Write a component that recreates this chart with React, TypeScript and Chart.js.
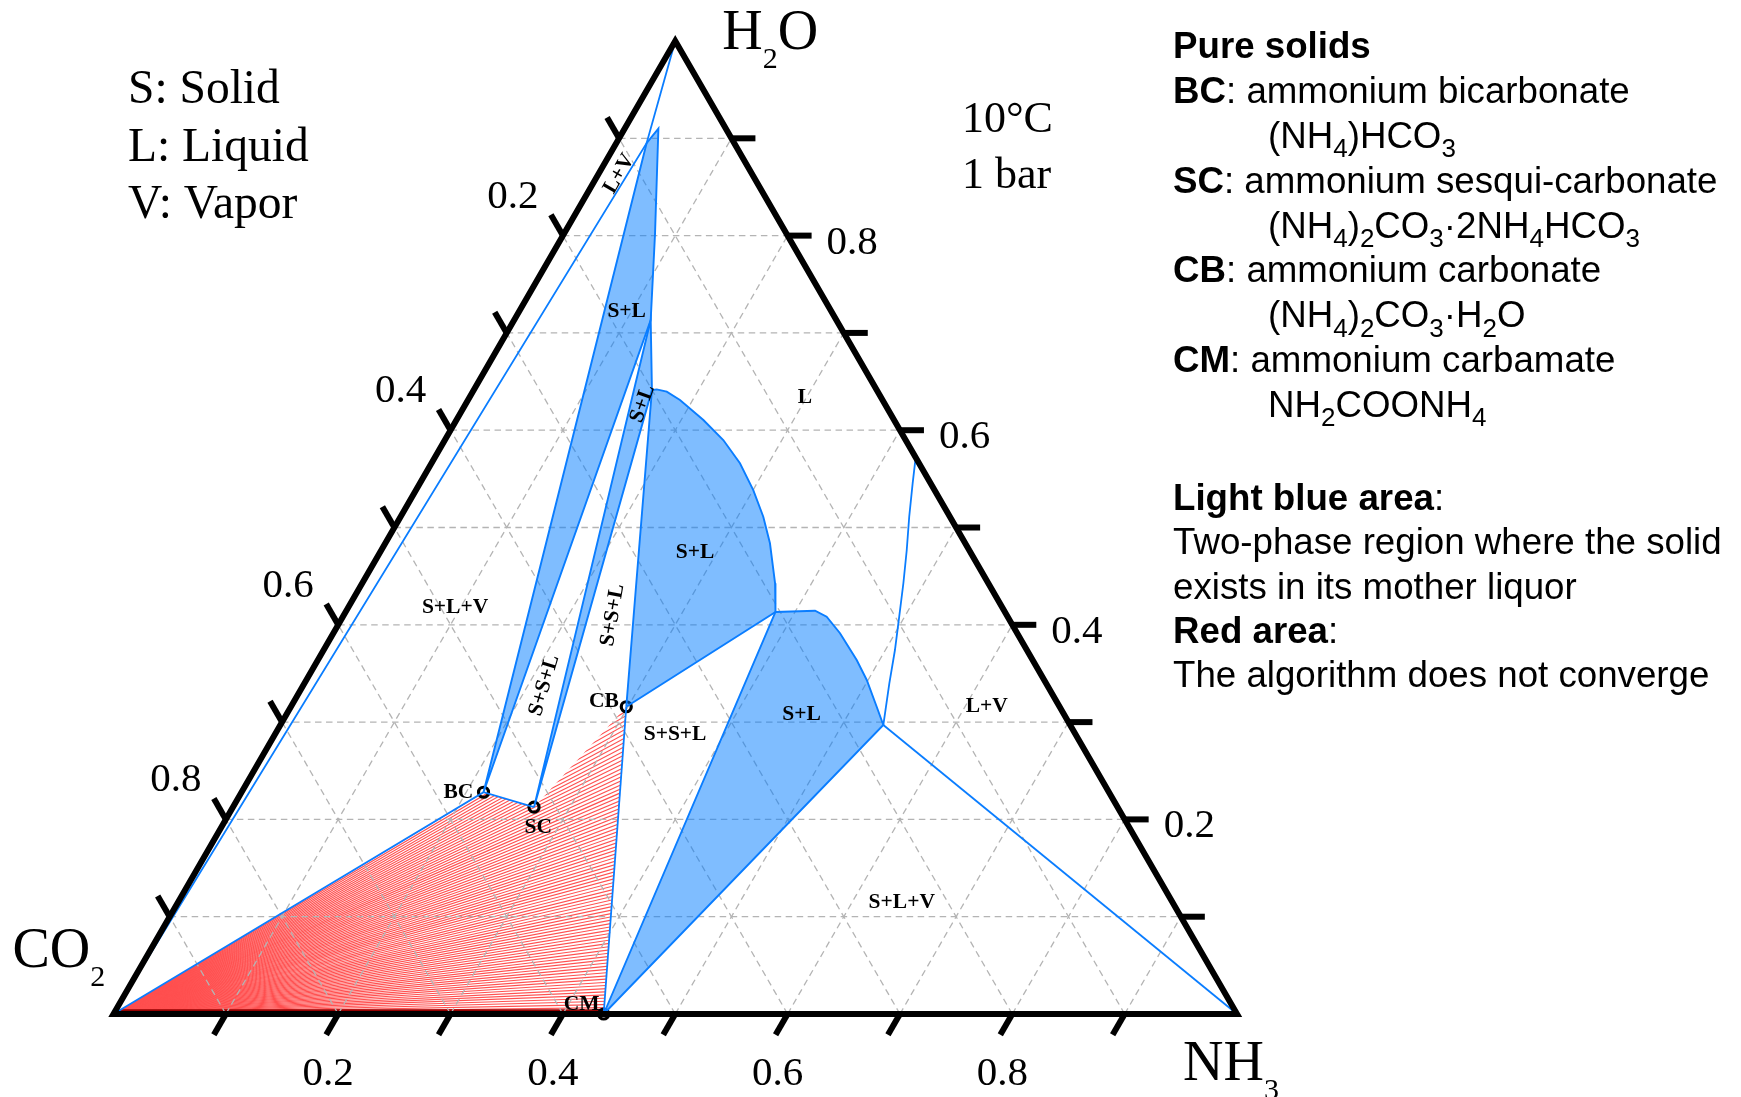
import React, { useEffect, useRef } from 'react';
import { Chart, registerables } from 'chart.js';

Chart.register(...registerables);

type TP = [number, number]; // [NH3 mass fraction, H2O mass fraction]; CO2 = 1 - NH3 - H2O
type Seg = [string, 'n' | 'b' | 's'];

// ---------------- data ----------------
const CO2_V: TP = [0, 0];
const NH3_V: TP = [1, 0];
const H2O_V: TP = [0, 1];

const solidNames = ['BC', 'SC', 'CB', 'CM'];
const solidPoints: TP[] = [
  [0.2154, 0.2279],
  [0.268, 0.2126],
  [0.2985, 0.3158],
  [0.4363, 0.0],
];

const bcLiquidus: TP[] = [[0.027, 0.895], [0.03, 0.91], [0.081, 0.802], [0.1215, 0.7133]];
const scLiquidus: TP[] = [[0.1215, 0.7133], [0.1586, 0.6413]];
const cbLiquidus: TP[] = [
  [0.1586, 0.6413], [0.1625, 0.642], [0.1726, 0.6396], [0.1887, 0.631], [0.2198, 0.6105],
  [0.2478, 0.5899], [0.2746, 0.566], [0.3002, 0.5385], [0.3228, 0.5111], [0.3424, 0.4838],
  [0.3675, 0.4427], [0.3826, 0.4132],
];
const cmLiquidus: TP[] = [
  [0.3826, 0.4132], [0.4172, 0.4145], [0.4306, 0.4083], [0.451, 0.3913], [0.4796, 0.3638],
  [0.4988, 0.3433], [0.5214, 0.3158], [0.5367, 0.297],
];
const lvRightCurve: TP[] = [
  [0.5367, 0.297], [0.5206, 0.3399], [0.5085, 0.3741], [0.4952, 0.4083], [0.4817, 0.4427],
  [0.4676, 0.4769], [0.4527, 0.5111], [0.4386, 0.5454], [0.428, 0.572],
];
const lvLeftCurve: TP[] = [CO2_V, [0.027, 0.895], H2O_V];

const axisTicks = [0.1, 0.2, 0.3, 0.4, 0.5, 0.6, 0.7, 0.8, 0.9];
const axisLabels = [0.2, 0.4, 0.6, 0.8];

const regionLabels: { text: string; at: TP; rot: number }[] = [
  { text: 'L+V', at: [0.0173, 0.864], rot: -60 },
  { text: 'S+L', at: [0.095, 0.7235], rot: 0 },
  { text: 'S+L', at: [0.1563, 0.6276], rot: -70 },
  { text: 'L', at: [0.2983, 0.6344], rot: 0 },
  { text: 'S+L', at: [0.28, 0.4751], rot: 0 },
  { text: 'S+S+L', at: [0.2384, 0.4101], rot: -80 },
  { text: 'S+S+L', at: [0.2135, 0.3381], rot: -73 },
  { text: 'S+L+V', at: [0.0947, 0.4186], rot: 0 },
  { text: 'S+S+L', at: [0.3556, 0.2885], rot: 0 },
  { text: 'S+L', at: [0.458, 0.309], rot: 0 },
  { text: 'L+V', at: [0.6184, 0.3176], rot: 0 },
  { text: 'S+L+V', at: [0.6439, 0.1154], rot: 0 },
  { text: 'CB', at: [0.2752, 0.3227], rot: 0 },
  { text: 'BC', at: [0.1927, 0.2285], rot: 0 },
  { text: 'SC', at: [0.2819, 0.1925], rot: 0 },
  { text: 'CM', at: [0.4112, 0.011], rot: 0 },
];

const phaseLegend = ['S: Solid', 'L: Liquid', 'V: Vapor'];
const conditions = ['10°C', '1 bar'];

const pureSolidNotes: Seg[][] = [
  [['Pure solids', 'b']],
  [['BC', 'b'], [': ammonium bicarbonate', 'n']],
  [['(NH', 'n'], ['4', 's'], [')HCO', 'n'], ['3', 's']],
  [['SC', 'b'], [': ammonium sesqui-carbonate', 'n']],
  [['(NH', 'n'], ['4', 's'], [')', 'n'], ['2', 's'], ['CO', 'n'], ['3', 's'], ['·2NH', 'n'], ['4', 's'], ['HCO', 'n'], ['3', 's']],
  [['CB', 'b'], [': ammonium carbonate', 'n']],
  [['(NH', 'n'], ['4', 's'], [')', 'n'], ['2', 's'], ['CO', 'n'], ['3', 's'], ['·H', 'n'], ['2', 's'], ['O', 'n']],
  [['CM', 'b'], [': ammonium carbamate', 'n']],
  [['NH', 'n'], ['2', 's'], ['COONH', 'n'], ['4', 's']],
];
const areaNotes: Seg[][] = [
  [['Light blue area', 'b'], [':', 'n']],
  [['Two-phase region where the solid', 'n']],
  [['exists in its mother liquor', 'n']],
  [['Red area', 'b'], [':', 'n']],
  [['The algorithm does not converge', 'n']],
];

// ---------------- derived ----------------
const [BC, SC, CB, CM] = solidPoints;
const bcRegion: TP[] = [BC, ...bcLiquidus, BC];
const scRegion: TP[] = [SC, ...scLiquidus, SC];
const cbRegion: TP[] = [CB, ...cbLiquidus, CB];
const cmRegion: TP[] = [CM, ...cmLiquidus, CM];
const boundaryLines: TP[][] = [
  lvLeftCurve,
  [CO2_V, BC, SC],
  [CB, CM],
  [cmLiquidus[cmLiquidus.length - 1], NH3_V],
  lvRightCurve,
];
const redRegion: TP[] = [CO2_V, BC, SC, CB, CM];

const SQ = Math.sqrt(3) / 2;
const toXY = (p: TP) => ({ x: p[0] + p[1] / 2, y: p[1] * SQ });

const SERIF = '"Liberation Serif", "Times New Roman", serif';
const SANS = '"Liberation Sans", Arial, sans-serif';
const LINE = '#0a7dff';
const FILL = 'rgba(0,124,255,0.5)';

function drawRich(ctx: CanvasRenderingContext2D, segs: Seg[], x: number, y: number, size: number, sub: number, subDy: number, fam: string) {
  let cx = x;
  for (const [t, k] of segs) {
    ctx.font = k === 's' ? `${sub}px ${fam}` : `${k === 'b' ? 'bold ' : ''}${size}px ${fam}`;
    ctx.fillText(t, cx, k === 's' ? y + subDy : y);
    cx += ctx.measureText(t).width;
  }
}

const ternaryPlugin = {
  id: 'ternaryDecor',
  beforeDatasetsDraw(chart: any) {
    const ctx: CanvasRenderingContext2D = chart.ctx;
    const P = (p: TP): [number, number] => {
      const q = toXY(p);
      return [chart.scales.x.getPixelForValue(q.x), chart.scales.y.getPixelForValue(q.y)];
    };
    // red hatch (fan from the CO2 corner, clipped to the region)
    ctx.save();
    ctx.beginPath();
    redRegion.forEach((p, i) => {
      const [x, y] = P(p);
      if (i) ctx.lineTo(x, y); else ctx.moveTo(x, y);
    });
    ctx.closePath();
    ctx.clip();
    const [ox, oy] = P(redRegion[0]);
    let maxA = 0;
    redRegion.slice(1).forEach((p) => {
      const [x, y] = P(p);
      maxA = Math.max(maxA, Math.atan2(oy - y, x - ox));
    });
    ctx.strokeStyle = 'rgb(255,80,80)';
    ctx.lineWidth = 1.15;
    const n = 84;
    for (let i = 0; i <= n; i++) {
      const a = (maxA * i) / n;
      ctx.beginPath();
      ctx.moveTo(ox, oy);
      ctx.lineTo(ox + 1600 * Math.cos(a), oy - 1600 * Math.sin(a));
      ctx.stroke();
    }
    // dark band along the base
    const [mx, my] = P(redRegion[redRegion.length - 1]);
    ctx.strokeStyle = 'rgb(150,0,0)';
    ctx.lineWidth = 2.5;
    ctx.beginPath();
    ctx.moveTo(ox, oy - 3.5);
    ctx.lineTo(mx, my - 3.5);
    ctx.stroke();
    ctx.restore();

    // dashed grid
    ctx.save();
    ctx.strokeStyle = '#b4b4b4';
    ctx.lineWidth = 1.3;
    ctx.setLineDash([6.5, 4.5]);
    const seg = (a: TP, b: TP) => {
      const [x1, y1] = P(a);
      const [x2, y2] = P(b);
      ctx.beginPath();
      ctx.moveTo(x1, y1);
      ctx.lineTo(x2, y2);
      ctx.stroke();
    };
    for (const t of axisTicks) {
      seg([0, t], [1 - t, t]);
      seg([t, 0], [t, 1 - t]);
      seg([1 - t, 0], [0, 1 - t]);
    }
    ctx.restore();
  },
  afterDatasetsDraw(chart: any) {
    const ctx: CanvasRenderingContext2D = chart.ctx;
    const P = (p: TP): [number, number] => {
      const q = toXY(p);
      return [chart.scales.x.getPixelForValue(q.x), chart.scales.y.getPixelForValue(q.y)];
    };
    ctx.save();
    // frame
    const [ax, ay] = P(CO2_V);
    const [bx, by] = P(NH3_V);
    const [cx, cy] = P(H2O_V);
    ctx.strokeStyle = '#000';
    ctx.lineWidth = 6;
    ctx.lineJoin = 'miter';
    ctx.beginPath();
    ctx.moveTo(ax, ay);
    ctx.lineTo(bx, by);
    ctx.lineTo(cx, cy);
    ctx.closePath();
    ctx.stroke();
    // ticks
    const L = 24;
    ctx.lineCap = 'butt';
    for (const t of axisTicks) {
      let [x, y] = P([t, 0]);
      ctx.beginPath(); ctx.moveTo(x, y); ctx.lineTo(x - 0.5 * L, y + SQ * L); ctx.stroke();
      [x, y] = P([1 - t, t]);
      ctx.beginPath(); ctx.moveTo(x, y); ctx.lineTo(x + L, y); ctx.stroke();
      [x, y] = P([0, 1 - t]);
      ctx.beginPath(); ctx.moveTo(x, y); ctx.lineTo(x - 0.5 * L, y - SQ * L); ctx.stroke();
    }
    // tick labels
    ctx.fillStyle = '#000';
    ctx.font = `41px ${SERIF}`;
    ctx.textBaseline = 'alphabetic';
    for (const v of axisLabels) {
      const s = v.toFixed(1);
      let [x, y] = P([v, 0]);
      ctx.textAlign = 'center';
      ctx.fillText(s, x - 10, y + 71);
      [x, y] = P([1 - v, v]);
      ctx.textAlign = 'left';
      ctx.fillText(s, x + 39, y + 18);
      [x, y] = P([0, 1 - v]);
      ctx.textAlign = 'center';
      ctx.fillText(s, x - 50, y - 28);
    }
    // vertex labels
    ctx.textAlign = 'left';
    drawRich(ctx, [['H', 'n'], ['2', 's'], ['O', 'n']], cx + 47, cy + 8, 56, 30, 19, SERIF);
    drawRich(ctx, [['CO', 'n'], ['2', 's']], ax - 101, ay - 47, 56, 30, 19, SERIF);
    drawRich(ctx, [['NH', 'n'], ['3', 's']], bx - 54, by + 66, 56, 30, 19, SERIF);

    // region labels
    ctx.font = `bold 21.5px ${SERIF}`;
    ctx.textAlign = 'center';
    ctx.textBaseline = 'middle';
    for (const lb of regionLabels) {
      const [x, y] = P(lb.at);
      ctx.save();
      ctx.translate(x, y);
      ctx.rotate((lb.rot * Math.PI) / 180);
      ctx.fillText(lb.text, 0, 1);
      ctx.restore();
    }

    // text blocks
    ctx.textAlign = 'left';
    ctx.textBaseline = 'alphabetic';
    ctx.font = `47.5px ${SERIF}`;
    phaseLegend.forEach((s, i) => ctx.fillText(s, 128, 103.3 + i * 57.5));
    ctx.font = `44px ${SERIF}`;
    conditions.forEach((s, i) => ctx.fillText(s, 962, 131.7 + i * 56.6));

    pureSolidNotes.forEach((segs, i) => {
      const indent = i > 0 && i % 2 === 0 ? 1268 : 1173;
      drawRich(ctx, segs, indent, 58.3 + i * 44.8, 36.7, 26, 9.5, SANS);
    });
    areaNotes.forEach((segs, i) => {
      drawRich(ctx, segs, 1173, 510 + i * 44.3, 36.7, 26, 9.5, SANS);
    });
    ctx.restore();
  },
};

export default function App() {
  const ref = useRef<HTMLCanvasElement>(null);
  useEffect(() => {
    document.body.style.margin = '0';
    document.body.style.overflow = 'hidden';
    const regionSet = (r: TP[]) => ({
      data: r.map(toXY),
      showLine: true,
      fill: 'shape',
      backgroundColor: FILL,
      borderColor: LINE,
      borderWidth: 1.9,
      pointRadius: 0,
      tension: 0,
    });
    const lineSet = (r: TP[]) => ({
      data: r.map(toXY),
      showLine: true,
      fill: false,
      borderColor: LINE,
      borderWidth: 1.8,
      pointRadius: 0,
      tension: 0,
    });
    const chart = new Chart(ref.current as HTMLCanvasElement, {
      type: 'scatter',
      data: {
        datasets: [
          ...[bcRegion, scRegion, cbRegion, cmRegion].map(regionSet),
          ...boundaryLines.map(lineSet),
          {
            label: solidNames.join(','),
            data: solidPoints.map(toXY),
            showLine: false,
            pointRadius: 5,
            pointBorderWidth: 3.2,
            pointBorderColor: '#000',
            pointBackgroundColor: 'rgba(0,0,0,0)',
          },
        ] as any,
      },
      options: {
        animation: false,
        responsive: false,
        events: [],
        layout: { padding: 0, autoPadding: false },
        plugins: { legend: { display: false }, tooltip: { enabled: false } },
        scales: {
          x: { type: 'linear', display: false, min: -0.101024, max: 1.448598 },
          y: { type: 'linear', display: false, min: -0.073876, max: 0.902537 },
        },
      } as any,
      plugins: [ternaryPlugin as any],
    });
    return () => chart.destroy();
  }, []);
  return (
    <div style={{ position: 'absolute', left: 0, top: 0, width: 1741, height: 1097, background: '#fff' }}>
      <canvas ref={ref} width={1741} height={1097} style={{ display: 'block' }} />
    </div>
  );
}
